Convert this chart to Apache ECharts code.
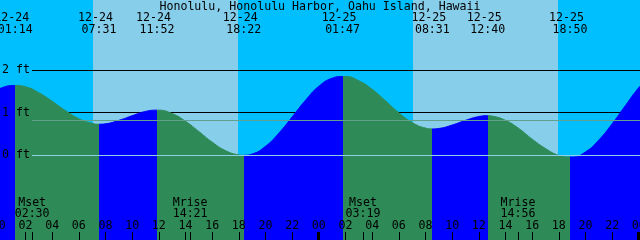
<!DOCTYPE html>
<html><head><meta charset="utf-8">
<script src="https://cdn.jsdelivr.net/npm/echarts@6/dist/echarts.min.js"></script>
<style>html,body{margin:0;padding:0;background:#00BFFF}#c{width:640px;height:240px}</style>
</head><body><div id="c"></div>
<script>
// ---- data (hours counted from 2024-12-24 00:00) ----
const chartTitle = 'Honolulu, Honolulu Harbor, Oahu Island, Hawaii';
const tideDates = ['12-24','12-24','12-24','12-24','12-25','12-25','12-25','12-25'];
const tideClock = ['01:14','07:31','11:52','18:22','01:47','08:31','12:40','18:50'];
const tideKind  = ['High','Low','High','Low','High','Low','High','Low'];
const tideFeet  = [1.64, 0.73, 1.06, 0.00, 1.85, 0.62, 0.93, -0.04];

const moonNames = ['Mset','Mrise','Mset','Mrise'];
const moonDates = ['12-24','12-24','12-25','12-25'];
const moonClock = ['02:30','14:21','03:19','14:56'];

const sunriseDates = ['12-24','12-25'];
const sunriseClock = ['07:03','07:03'];
const sunsetDates  = ['12-24','12-25'];
const sunsetClock  = ['17:57','17:57'];

// tide curve
const curveHours = [-1, 0, 1.233, 2, 3, 4, 5, 6, 7, 7.517, 8, 9, 10, 11, 11.867, 12, 13, 14, 15, 16, 17, 18, 18.367,
  19, 20, 21, 22, 23, 24, 25, 25.783, 26, 27, 28, 29, 30, 31, 32, 32.517, 33, 34, 35, 36, 36.667,
  37, 38, 39, 40, 41, 42, 42.833, 43, 44, 45, 46, 47, 48, 48.5];
const curveFeet = [1.40, 1.56, 1.64, 1.61, 1.47, 1.27, 1.05, 0.86, 0.75, 0.73, 0.74, 0.82, 0.93, 1.03, 1.06, 1.06, 0.98, 0.80, 0.56, 0.31, 0.11, 0.01, 0.00,
  0.03, 0.21, 0.52, 0.90, 1.29, 1.62, 1.81, 1.85, 1.85, 1.75, 1.55, 1.28, 1.00, 0.77, 0.64, 0.62, 0.63, 0.71, 0.82, 0.91, 0.93,
  0.92, 0.82, 0.63, 0.38, 0.16, 0.00, -0.04, -0.04, 0.08, 0.36, 0.74, 1.17, 1.59, 1.74];

const gridFeet = [1, 2];
const datumFeet = 0;
const meanSeaLevelFeet = 0.82;
const tickHours  = [0,2,4,6,8,10,12,14,16,18,20,22,24,26,28,30,32,34,36,38,40,42,44,46,48];
const tickLabels = ['00','02','04','06','08','10','12','14','16','18','20','22','00','02','04','06','08','10','12','14','16','18','20','22','00'];
const dayStartHours = [0, 24, 48];
const yLabelFeet = [0, 1, 2];

// ---- helpers ----
function toHours(date, clock) {
  const day = parseInt(date.split('-')[1], 10) - 24;
  const p = clock.split(':');
  return day * 24 + parseInt(p[0], 10) + parseInt(p[1], 10) / 60;
}
const tideHours = tideClock.map((c, i) => toHours(tideDates[i], c));
const moonHours = moonClock.map((c, i) => toHours(moonDates[i], c));
const sunrise = sunriseClock.map((c, i) => toHours(sunriseDates[i], c));
const sunset = sunsetClock.map((c, i) => toHours(sunsetDates[i], c));

const C = { night: '#00BFFF', day: '#87CEEB', rise: '#0000FF', fall: '#2E8B57', grid: '#000000', datum: '#8ECFEA', msl: '#60A08C' };
const FONT = { fontFamily: 'DejaVu Sans Mono', fontSize: 11.6, fill: '#000' };

const bands = [[-5, sunrise[0], 0], [sunrise[0], sunset[0], 1], [sunset[0], sunrise[1], 0], [sunrise[1], sunset[1], 1], [sunset[1], 60, 0]];

const pieces = [];
for (let i = 0; i < tideHours.length; i++) {
  const col = tideKind[i] === 'High' ? C.rise : C.fall;
  if (i === 0) pieces.push({ lt: tideHours[i], color: col });
  else pieces.push({ gte: tideHours[i - 1], lt: tideHours[i], color: col });
}
pieces.push({ gte: tideHours[tideHours.length - 1], color: tideKind[tideKind.length - 1] === 'Low' ? C.rise : C.fall });

const hLines = gridFeet.map(v => [v, 0]).concat([[datumFeet, 1], [meanSeaLevelFeet, 2]]);

const chart = echarts.init(document.getElementById('c'), null, { renderer: 'canvas' });
chart.setOption({
  animation: false,
  backgroundColor: C.night,
  title: {
    text: chartTitle, left: 'center', top: 0.5, padding: 0,
    textStyle: { fontFamily: FONT.fontFamily, fontSize: FONT.fontSize, fontWeight: 'normal', color: '#000' }
  },
  grid: { left: -1.2, right: 0, top: 0, bottom: 0, containLabel: false, outerBoundsMode: 'none' },
  xAxis: {
    type: 'value', min: 0, max: 48.09, z: 10,
    axisLine: { show: false, onZero: false },
    splitLine: { show: false },
    axisTick: { show: true, inside: true, length: 8, lineStyle: { color: '#000', width: 1 }, customValues: tickHours },
    axisLabel: {
      inside: true, margin: 8, customValues: tickHours, color: '#000',
      fontFamily: FONT.fontFamily, fontSize: FONT.fontSize,
      formatter: v => tickLabels[tickHours.indexOf(v)]
    }
  },
  yAxis: {
    type: 'value', min: -1.988, max: 3.6455, z: 10,
    axisLine: { show: false, onZero: false }, axisTick: { show: false }, splitLine: { show: false },
    axisLabel: {
      inside: true, margin: 3.2, customValues: yLabelFeet, color: '#000',
      fontFamily: FONT.fontFamily, fontSize: FONT.fontSize, verticalAlign: 'middle',
      formatter: v => v + ' ft'
    }
  },
  visualMap: { type: 'piecewise', show: false, dimension: 0, seriesIndex: 2, pieces: pieces },
  series: [
    {
      type: 'custom', z: 0, silent: true, data: bands,
      renderItem(params, api) {
        const cs = params.coordSys;
        let x0 = api.coord([api.value(0), 0])[0];
        let x1 = api.coord([api.value(1), 0])[0];
        x0 = Math.max(Math.round(x0), cs.x); x1 = Math.min(Math.round(x1), cs.x + cs.width);
        return { type: 'rect', shape: { x: x0, y: cs.y, width: Math.max(0, x1 - x0), height: cs.height },
          style: { fill: api.value(2) ? C.day : C.night } };
      }
    },
    {
      type: 'custom', z: 1, silent: true, data: hLines.filter(d => d[1] === 0),
      renderItem(params, api) {
        const cs = params.coordSys;
        const y = Math.floor(api.coord([0, api.value(0)])[1]) + 0.5;
        return { type: 'line', shape: { x1: 32, y1: y, x2: cs.x + cs.width, y2: y }, style: { stroke: C.grid, lineWidth: 1 } };
      }
    },
    {
      type: 'line', z: 2, silent: true, showSymbol: false, smooth: true,
      data: curveHours.map((h, i) => [h, curveFeet[i]]),
      lineStyle: { width: 1 },
      areaStyle: { opacity: 1, origin: 'start' }
    },
    {
      type: 'custom', z: 3, silent: true, data: hLines.filter(d => d[1] !== 0),
      renderItem(params, api) {
        const cs = params.coordSys;
        const y = Math.floor(api.coord([0, api.value(0)])[1]) + 0.5;
        return { type: 'line', shape: { x1: 32, y1: y, x2: cs.x + cs.width, y2: y },
          style: { stroke: api.value(1) === 1 ? C.datum : C.msl, lineWidth: 1 } };
      }
    },
    {
      type: 'custom', z: 5, silent: true, data: tideHours.map((h, i) => [h, i]),
      renderItem(params, api) {
        const i = api.value(1);
        const x = api.coord([api.value(0), 0])[0];
        return { type: 'group', children: [
          { type: 'text', x: x - 3.5, y: 18, style: Object.assign({ text: tideDates[i], align: 'center', verticalAlign: 'middle' }, FONT) },
          { type: 'text', x: x, y: 29.5, style: Object.assign({ text: tideClock[i], align: 'center', verticalAlign: 'middle' }, FONT) }
        ] };
      }
    },
    {
      type: 'custom', z: 5, silent: true, data: moonHours.map((h, i) => [h, i]),
      renderItem(params, api) {
        const i = api.value(1);
        const x = api.coord([api.value(0), 0])[0];
        const xs = Math.round(x) + 0.5;
        return { type: 'group', children: [
          { type: 'text', x: x, y: 202.5, style: Object.assign({ text: moonNames[i], align: 'center', verticalAlign: 'middle' }, FONT) },
          { type: 'text', x: x, y: 213.5, style: Object.assign({ text: moonClock[i], align: 'center', verticalAlign: 'middle' }, FONT) },
          { type: 'line', shape: { x1: xs, y1: 232, x2: xs, y2: 240 }, style: { stroke: '#000', lineWidth: 1 } }
        ] };
      }
    },
    {
      type: 'custom', z: 5, silent: true, data: dayStartHours.map(h => [h, 0]),
      renderItem(params, api) {
        const x = api.coord([api.value(0), 0])[0];
        return { type: 'rect', shape: { x: Math.round(x) - 2, y: 232, width: 3, height: 8 }, style: { fill: '#000' } };
      }
    }
  ]
});
</script></body></html>
